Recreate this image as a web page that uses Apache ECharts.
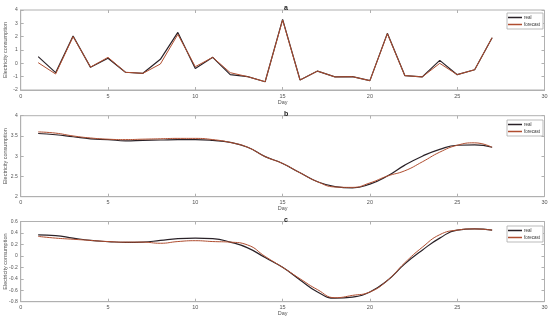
<!DOCTYPE html>
<html><head><meta charset="utf-8">
<script src="https://cdn.jsdelivr.net/npm/echarts@6/dist/echarts.min.js"></script>
<style>html,body{margin:0;padding:0;background:#fff}#c{width:550px;height:320px}</style>
</head><body><div id="c"></div>
<script>
const days = [1,2,3,4,5,6,7,8,9,10,11,12,13,14,15,16,17,18,19,20,21,22,23,24,25,26,27];
const aReal = [0.5,-0.7,2.05,-0.3,0.38,-0.67,-0.75,0.3,2.32,-0.38,0.45,-0.85,-1.0,-1.38,3.3,-1.25,-0.58,-1.02,-1.0,-1.3,2.25,-0.92,-1.02,0.22,-0.85,-0.48,1.92];
const aFore = [0.05,-0.8,2.0,-0.28,0.45,-0.67,-0.75,-0.05,2.17,-0.25,0.45,-0.7,-1.0,-1.38,3.25,-1.25,-0.58,-1.02,-1.0,-1.3,2.22,-0.92,-1.02,0.0,-0.85,-0.48,1.92];
const bReal = [3.56,3.53,3.48,3.43,3.41,3.38,3.39,3.40,3.41,3.41,3.39,3.34,3.22,2.99,2.82,2.59,2.37,2.25,2.22,2.31,2.51,2.78,3.0,3.17,3.27,3.28,3.22];
const bFore = [3.6,3.57,3.50,3.45,3.42,3.41,3.42,3.43,3.44,3.44,3.41,3.34,3.22,2.99,2.82,2.59,2.37,2.24,2.23,2.34,2.51,2.64,2.86,3.1,3.27,3.33,3.22];
const cReal = [0.366,0.355,0.31,0.27,0.25,0.235,0.24,0.27,0.30,0.31,0.30,0.24,0.14,-0.03,-0.2,-0.42,-0.63,-0.74,-0.72,-0.63,-0.43,-0.14,0.1,0.31,0.45,0.47,0.45];
const cFore = [0.34,0.31,0.29,0.27,0.25,0.24,0.24,0.22,0.25,0.265,0.25,0.24,0.19,-0.01,-0.2,-0.4,-0.59,-0.73,-0.69,-0.63,-0.43,-0.12,0.15,0.37,0.45,0.47,0.45];
const titles = ['a','b','c'];
const yMin = [-2,2,-0.8], yMax=[4,4,0.6], yInt=[1,0.5,0.2];

const grids = [
  {left:20.7,right:5.5,top:10,height:80},
  {left:20.7,right:5.5,top:115.7,height:81},
  {left:20.7,right:5.5,top:221.5,height:80.2}
];
const realColor = '#2a2228', foreColor = '#b04e30';
const axisCol = '#b0b0b0', labelCol = '#555';
const realData = [aReal,bReal,cReal], foreData=[aFore,bFore,cFore];
const smoothArr = [false,true,true];
const legendTops = [13,120,226];

const xAxis=[], yAxis=[], series=[], legend=[], title=[];
grids.forEach((g,i)=>{
  g.show=true; g.borderColor=axisCol; g.borderWidth=1; g.containLabel=false; g.outerBoundsMode='none';
  xAxis.push({type:'value',gridIndex:i,min:0,max:30,interval:5,
    name:'Day',nameLocation:'middle',nameGap:9,nameMoveOverlap:false,nameTextStyle:{fontSize:5.5,color:labelCol,fontFamily:'Liberation Sans'},
    axisLine:{onZero:false,lineStyle:{color:axisCol}},axisTick:{inside:true,length:3,lineStyle:{color:axisCol}},
    axisLabel:{fontSize:5.5,color:labelCol,margin:3,fontFamily:'Liberation Sans'},splitLine:{show:false}});
  xAxis.push({type:'value',gridIndex:i,min:0,max:30,interval:5,position:'top',
    axisLine:{show:false,onZero:false},axisTick:{inside:true,length:3,lineStyle:{color:axisCol}},
    axisLabel:{show:false},splitLine:{show:false}});
  yAxis.push({type:'value',gridIndex:i,min:yMin[i],max:yMax[i],interval:yInt[i],
    name:'Electricity consumption',nameLocation:'middle',nameGap:12,nameMoveOverlap:false,nameTextStyle:{fontSize:5.5,color:labelCol,fontFamily:'Liberation Sans'},
    axisLine:{show:true,onZero:false,lineStyle:{color:axisCol}},axisTick:{show:true,inside:true,length:3,lineStyle:{color:axisCol}},
    axisLabel:{fontSize:5,color:labelCol,margin:3,fontFamily:'Liberation Sans',formatter:v=>String(Math.round(v*10)/10)},splitLine:{show:false}});
  yAxis.push({type:'value',gridIndex:i,min:yMin[i],max:yMax[i],interval:yInt[i],position:'right',
    axisLine:{show:false,onZero:false},axisTick:{show:true,inside:true,length:3,lineStyle:{color:axisCol}},
    axisLabel:{show:false},splitLine:{show:false}});
  series.push({name:'real',type:'line',xAxisIndex:i*2,yAxisIndex:i*2,showSymbol:false,smooth:smoothArr[i],
    lineStyle:{color:realColor,width:1.2},itemStyle:{color:realColor},
    data:days.map((d,k)=>[d,realData[i][k]])});
  series.push({name:'forecast',type:'line',xAxisIndex:i*2,yAxisIndex:i*2,showSymbol:false,smooth:smoothArr[i],
    lineStyle:{color:foreColor,width:1},itemStyle:{color:foreColor},
    data:days.map((d,k)=>[d,foreData[i][k]])});
  legend.push({data:['real','forecast'],orient:'vertical',left:507,top:legendTops[i],
    icon:'rect',itemWidth:14,itemHeight:1.5,itemGap:2,padding:[2,3,2,1],
    borderColor:'#aaa',borderWidth:0.8,backgroundColor:'#fff',
    textStyle:{fontSize:4.5,color:'#333',padding:[0,0,0,-3],fontFamily:'Liberation Sans'}});
  title.push({text:titles[i],left:279,top:g.top-10,textStyle:{fontSize:7,fontWeight:'bold',color:'#222',fontFamily:'Liberation Sans'}});
});

const chart = echarts.init(document.getElementById('c'),null,{renderer:'canvas'});
chart.setOption({animation:false,backgroundColor:'#fff',title,grid:grids,xAxis,yAxis,series,legend});
</script></body></html>
